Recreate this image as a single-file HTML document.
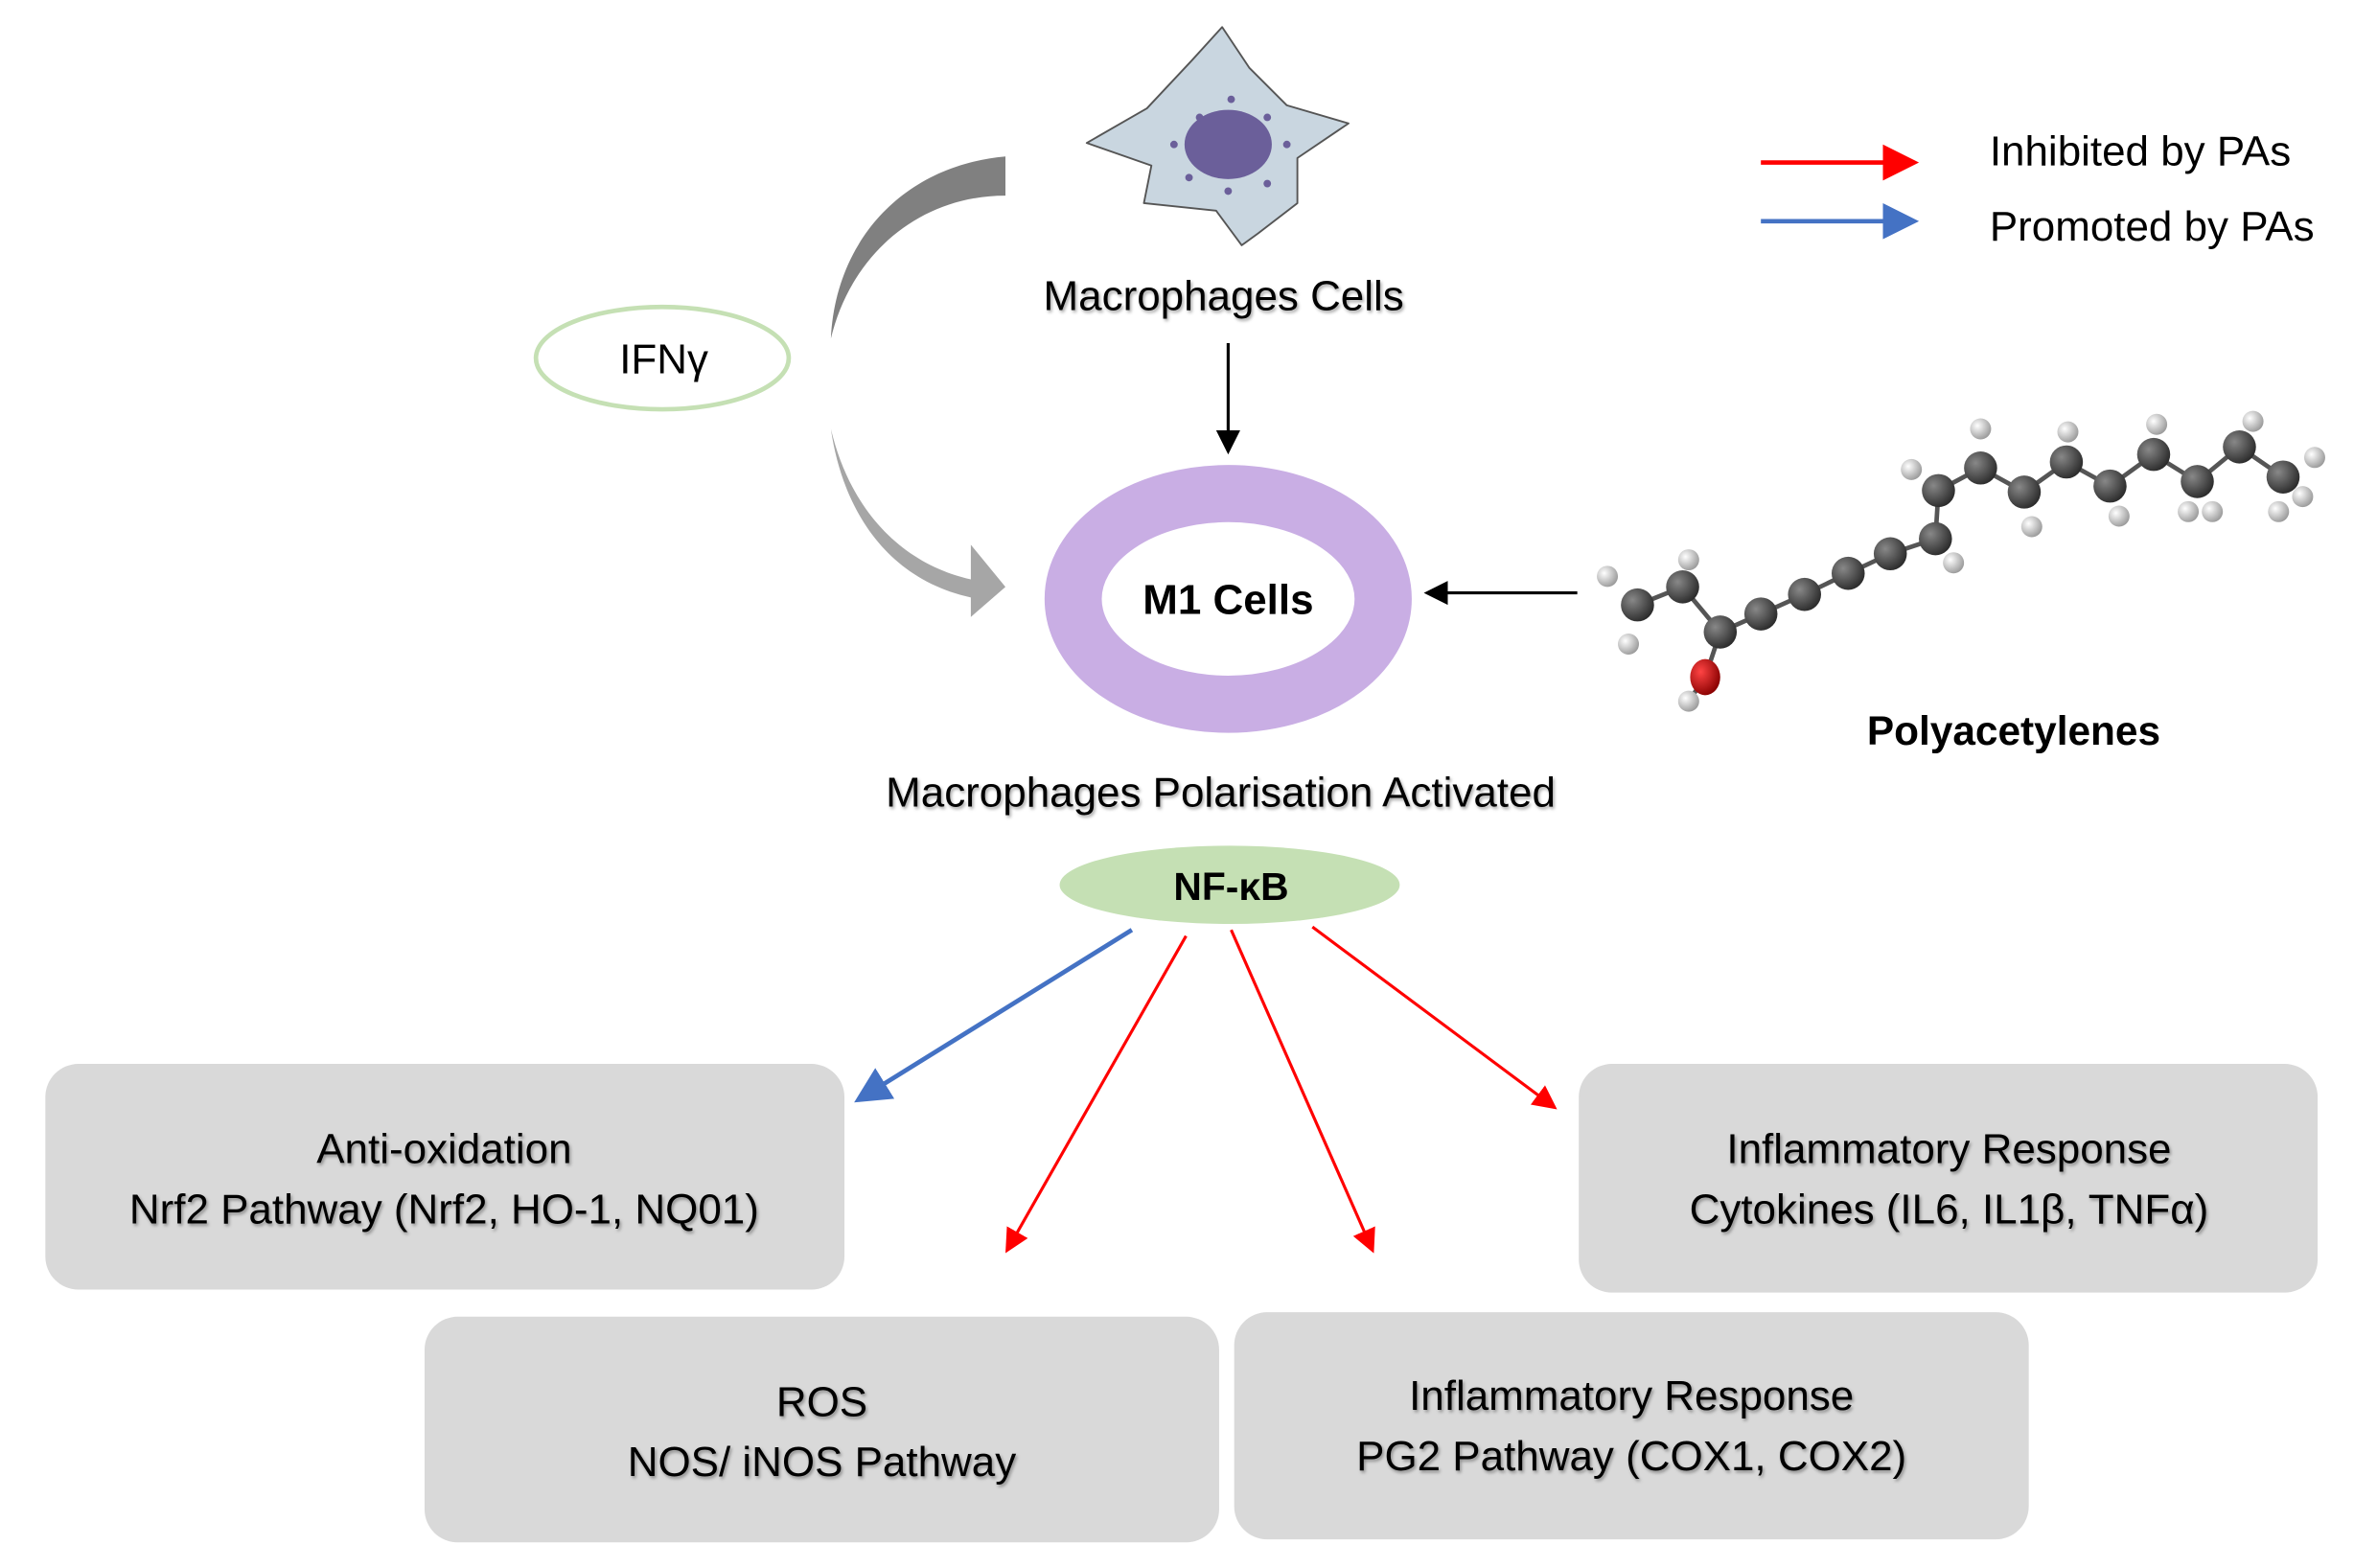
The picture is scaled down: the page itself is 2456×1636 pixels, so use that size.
<!DOCTYPE html>
<html><head><meta charset="utf-8"><style>
html,body{margin:0;padding:0;background:#fff}
svg{display:block}
text{font-family:"Liberation Sans",sans-serif}
</style></head><body>
<svg width="2456" height="1636" viewBox="0 0 1564 1042" xmlns="http://www.w3.org/2000/svg">
<defs>
<marker id="ak" markerWidth="8" markerHeight="8" refX="7" refY="4" orient="auto" markerUnits="strokeWidth"><path d="M0,0 L8,4 L0,8z" fill="#000"/></marker>
<marker id="ar" markerWidth="8" markerHeight="8" refX="7" refY="4" orient="auto" markerUnits="strokeWidth"><path d="M0,0 L8,4 L0,8z" fill="#f00"/></marker>
<marker id="ab" markerWidth="8" markerHeight="8" refX="7" refY="4" orient="auto" markerUnits="strokeWidth"><path d="M0,0 L8,4 L0,8z" fill="#4472c4"/></marker>
<radialGradient id="gc" cx="0.35" cy="0.35" r="0.7"><stop offset="0" stop-color="#888"/><stop offset="1" stop-color="#2a2a2a"/></radialGradient>
<radialGradient id="gh" cx="0.35" cy="0.35" r="0.7"><stop offset="0" stop-color="#fff"/><stop offset="1" stop-color="#999"/></radialGradient>
<radialGradient id="go" cx="0.35" cy="0.35" r="0.7"><stop offset="0" stop-color="#f44"/><stop offset="1" stop-color="#800"/></radialGradient>
<filter id="sh"><feDropShadow dx="1" dy="1.5" stdDeviation="1" flood-color="#000" flood-opacity="0.35"/></filter>
</defs>

<!-- macrophage -->
<path d="M722,95 L762,72 L792,40 L812,18 L830,45 L855,70 L896,82 L862,105 L862,135 L836,155 L825,163 L808,140 L760,135 L765,110 Z" fill="#c9d6e0" stroke="#555" stroke-width="1.2" stroke-linejoin="round"/>
<ellipse cx="816" cy="96" rx="29" ry="23" fill="#6b5f9a"/>
<g fill="#6b5f9a"><circle cx="780" cy="96" r="2.5"/><circle cx="797" cy="78" r="2.5"/><circle cx="818" cy="66" r="2.5"/><circle cx="842" cy="78" r="2.5"/><circle cx="855" cy="96" r="2.5"/><circle cx="842" cy="122" r="2.5"/><circle cx="816" cy="127" r="2.5"/><circle cx="790" cy="118" r="2.5"/></g>
<text x="813" y="206" font-size="28" text-anchor="middle" filter="url(#sh)">Macrophages Cells</text>
<line x1="816" y1="228" x2="816" y2="300" stroke="#000" stroke-width="2" marker-end="url(#ak)"/>

<!-- IFN -->
<ellipse cx="440" cy="238" rx="84" ry="34" fill="#fff" stroke="#c5e0b4" stroke-width="3"/>
<text x="441" y="248" font-size="28" text-anchor="middle">IFNγ</text>
<path d="M668,104 L668,130 C610,130 565,170 552,225 C555,160 600,110 668,104Z" fill="#808080"/>
<path d="M552,285 C565,340 600,375 645,385 L645,362 L668,390 L645,410 L645,397 C590,385 560,340 552,285Z" fill="#a6a6a6"/>

<!-- M1 -->
<ellipse cx="816" cy="398" rx="103" ry="70" fill="none" stroke="#c9aee4" stroke-width="38"/>
<text x="816" y="408" font-size="28" font-weight="bold" text-anchor="middle">M1 Cells</text>
<line x1="1048" y1="394" x2="948" y2="394" stroke="#000" stroke-width="2" marker-end="url(#ak)"/>

<!-- molecule -->
<g stroke="#555" stroke-width="3" fill="none">
<polyline points="1088,402 1118,390 1143,420 1170,408 1199,395 1228,381 1256,368 1286,358 1288,326 1316,311 1345,327 1373,307 1402,323 1431,302 1460,320 1488,297 1517,317"/>
<polyline points="1143,420 1133,450 1122,466"/>
</g>
<g fill="url(#gh)">
<circle cx="1068" cy="383" r="7"/><circle cx="1082" cy="428" r="7"/><circle cx="1122" cy="372" r="7"/><circle cx="1122" cy="466" r="7"/><circle cx="1298" cy="374" r="7"/>
<circle cx="1270" cy="312" r="7"/><circle cx="1316" cy="285" r="7"/><circle cx="1350" cy="350" r="7"/><circle cx="1374" cy="287" r="7"/><circle cx="1408" cy="343" r="7"/><circle cx="1433" cy="282" r="7"/><circle cx="1454" cy="340" r="7"/><circle cx="1470" cy="340" r="7"/><circle cx="1497" cy="280" r="7"/><circle cx="1514" cy="340" r="7"/><circle cx="1530" cy="330" r="7"/><circle cx="1538" cy="304" r="7"/>
</g>
<g fill="url(#gc)">
<circle cx="1088" cy="402" r="11"/><circle cx="1118" cy="390" r="11"/><circle cx="1143" cy="420" r="11"/><circle cx="1170" cy="408" r="11"/><circle cx="1199" cy="395" r="11"/><circle cx="1228" cy="381" r="11"/><circle cx="1256" cy="368" r="11"/><circle cx="1286" cy="358" r="11"/><circle cx="1288" cy="326" r="11"/><circle cx="1316" cy="311" r="11"/><circle cx="1345" cy="327" r="11"/><circle cx="1373" cy="307" r="11"/><circle cx="1402" cy="323" r="11"/><circle cx="1431" cy="302" r="11"/><circle cx="1460" cy="320" r="11"/><circle cx="1488" cy="297" r="11"/><circle cx="1517" cy="317" r="11"/>
</g>
<ellipse cx="1133" cy="450" rx="10" ry="12" fill="url(#go)"/>
<text x="1338" y="495" font-size="27" font-weight="bold" text-anchor="middle">Polyacetylenes</text>

<!-- legend -->
<line x1="1170" y1="108" x2="1272" y2="108" stroke="#f00" stroke-width="3" marker-end="url(#ar)"/>
<line x1="1170" y1="147" x2="1272" y2="147" stroke="#4472c4" stroke-width="3" marker-end="url(#ab)"/>
<text x="1322" y="110" font-size="28">Inhibited by PAs</text>
<text x="1322" y="160" font-size="28">Promoted by PAs</text>

<text x="811" y="536" font-size="28" text-anchor="middle" filter="url(#sh)">Macrophages Polarisation Activated</text>
<ellipse cx="817" cy="588" rx="113" ry="26" fill="#c5e0b4"/>
<text x="818" y="598" font-size="26" font-weight="bold" text-anchor="middle">NF-κB</text>

<line x1="752" y1="618" x2="570" y2="731" stroke="#4472c4" stroke-width="3" marker-end="url(#ab)"/>
<line x1="788" y1="622" x2="669" y2="831" stroke="#f00" stroke-width="2" marker-end="url(#ar)"/>
<line x1="818" y1="618" x2="912" y2="831" stroke="#f00" stroke-width="2" marker-end="url(#ar)"/>
<line x1="872" y1="616" x2="1033" y2="736" stroke="#f00" stroke-width="2" marker-end="url(#ar)"/>

<g fill="#d9d9d9">
<rect x="30" y="707" width="531" height="150" rx="22"/>
<rect x="1049" y="707" width="491" height="152" rx="22"/>
<rect x="282" y="875" width="528" height="150" rx="22"/>
<rect x="820" y="872" width="528" height="151" rx="22"/>
</g>
<g font-size="28" text-anchor="middle" filter="url(#sh)">
<text x="295" y="773">Anti-oxidation</text>
<text x="295" y="813">Nrf2 Pathway (Nrf2, HO-1, NQ01)</text>
<text x="1295" y="773">Inflammatory Response</text>
<text x="1295" y="813">Cytokines (IL6, IL1β, TNFα)</text>
<text x="546" y="941">ROS</text>
<text x="546" y="981">NOS/ iNOS Pathway</text>
<text x="1084" y="937">Inflammatory Response</text>
<text x="1084" y="977">PG2 Pathway (COX1, COX2)</text>
</g>
</svg>
</body></html>
